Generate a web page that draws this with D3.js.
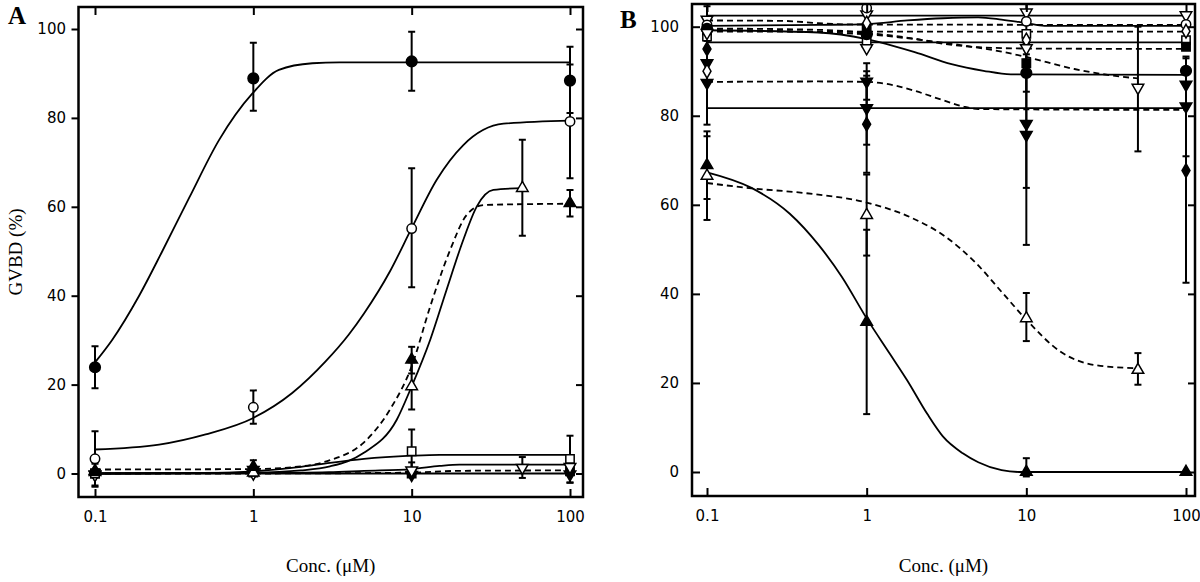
<!DOCTYPE html>
<html><head><meta charset="utf-8">
<script src="https://cdn.jsdelivr.net/npm/d3@7"></script>
<style>body{margin:0;background:#fff}</style>
</head><body>
<svg id="c" width="1200" height="582" xmlns="http://www.w3.org/2000/svg"></svg>
<script>
// ---------- shared axis data ----------
const concTicks = [0.1, 1, 10, 100];
const concTickLabels = ["0.1", "1", "10", "100"];
const gvbdTicks = [0, 20, 40, 60, 80, 100];
const gvbdTickLabels = ["0", "20", "40", "60", "80", "100"];
const yTitle = "GVBD (%)";
const xTitle = "Conc. (\u03BCM)";
const panelLetters = ["A", "B"];

// ---------- Panel A : data points [conc, value, errLow, errHigh] ----------
const aFilledCirclePts = [[0.1,23.9,19.2,28.6],[1,88.9,81.6,96.9],[10,92.7,86.1,99.4],[100,88.4,81.1,96]];
const aOpenCirclePts   = [[0.1,3.3,-3,9.5],[1,14.9,11.2,18.7],[10,55.1,41.9,68.7],[100,79.2,66.4,92]];
const aFilledTriPts    = [[0.1,0.6],[1,1.5,0,3],[10,25.6,22.5,28.5],[100,60.8,57.8,63.8]];
const aOpenTriPts      = [[0.1,0.3],[1,0.2],[10,19.6,14.4,25],[50,64.2,53.5,75.1]];
const aOpenSquarePts   = [[0.1,0,-2.7,2.2],[1,0.4],[10,5,0,9.9],[100,3.3,-2.1,8.5]];
const aOpenDownTriPts  = [[0.1,-0.3],[1,0],[10,0.7,-0.5,2.5],[50,1.3,-1,3.7],[100,1.5]];
const aFilledSquarePts = [[0.1,0],[1,0.2],[10,0],[100,0.5,-2,3]];
const aFilledDownTriPts= [[0.1,-0.2],[1,0.8],[10,-0.3],[100,-0.2]];

// ---------- Panel A : fitted curves [conc, value] ----------
const aFilledCircleCurve = [[0.1,25],[0.128,30],[0.19,40],[0.266,50],[0.393,62],[0.607,75],[0.987,85.5],[1.45,90.8],[2.36,92.3],[3.5,92.5],[100,92.5]];
const aOpenCircleCurve   = [[0.1,5.4],[0.254,6.5],[0.5,8.8],[1,12.5],[1.76,18.1],[2.86,25.2],[4,31.2],[5,36],[7.3,45.5],[10,55.2],[14.4,66.1],[21.2,73.9],[38,78.7],[100,79.4]];
const aFilledTriCurve    = [[0.1,0.9],[1,1.0],[2,1.6],[3.05,3.0],[4.96,6.9],[7.3,14.4],[10,24.1],[13.1,37.6],[17.5,50.3],[22.3,58.2],[28.4,60.4],[100,60.7]];
const aOpenTriCurve      = [[0.1,0],[1,0.2],[2,0.7],[3.05,1.6],[4.96,4.6],[8.05,12.1],[10,19.6],[13.1,30.1],[16.6,41.3],[21.2,52.6],[25.8,60.1],[32.8,63.8],[50,64.2]];
const aOpenSquareCurve   = [[0.1,0],[0.5,0.1],[1,0.5],[2,1.5],[3.05,2.4],[5,3.3],[10,4.0],[15,4.2],[100,4.2]];
const aOpenDownTriCurve  = [[0.1,0],[1,0.1],[3,0.3],[5,0.6],[10,1.0],[15,1.7],[20,2.0],[100,2.0]];
const aFilledSquareCurve = [[0.1,0],[1,0],[10,0.2],[20,0.6],[100,0.7]];
const aFilledDownTriCurve= [[0.1,0],[100,0]];

// ---------- Panel B : data points ----------
const bOpenDownTri1Pts = [[0.1,101.6,98.5,104.6],[1,102.8],[10,103.2,101,106],[100,102.6]];
const bOpenCirclePts   = [[0.1,100.4],[1,104.2,101,106],[10,101.2],[100,100.5]];
const bOpenSquarePts   = [[0.1,97.8],[1,96.4],[10,98.4],[100,97]];
const bFilledCirclePts = [[0.1,99.5],[1,98.3],[10,89.6,85.4,93.8],[100,90.1]];
const bFilledDownTri1Pts=[[0.1,87.4,78,96.8],[1,87.7,83.6,91.8],[10,78.2,63.8,92.6],[100,87]];
const bFilledDiamondPts= [[0.1,95,90,100],[1,78.1,67.2,89],[10,95.8],[100,67.7,42.5,92.9]];
const bFilledDownTri2Pts=[[0.1,91.8],[1,81.7,73.5,90],[10,75.7,51,100.4],[100,82.1,70.9,93.3]];
const bFilledSquarePts = [[0.1,99.2],[1,99.8],[10,91.8],[100,95.5]];
const bOpenDiamondPts  = [[0.1,90],[1,100.8],[10,97],[100,99]];
const bOpenDownTri2Pts = [[0.1,98.6],[1,95.2],[10,95.2],[50,86.3,72,100]];
const bFilledTriPts    = [[0.1,68.9,61.3,76.5],[1,33.7,13,54.4],[10,0,-1,3.1],[100,0]];
const bOpenTriPts      = [[0.1,66.5,56.6,75.4],[1,57.7,48.6,66.8],[10,34.5,29.4,40.2],[50,22.9,19.6,26.7]];

// ---------- Panel B : fitted curves ----------
const bOpenDownTri1Curve = [[0.1,102.5],[100,102.5]];
const bOpenCircleCurve   = [[0.1,100.2],[0.5,100.4],[1,100.6],[1.8,101.4],[3,101.9],[5,102.1],[7,101.6],[10,100.8],[13,100.2],[100,100.2]];
const bOpenSquareCurve   = [[0.1,96.5],[100,96.5]];
const bFilledCircleCurve = [[0.1,99.2],[0.5,98.7],[1,97.2],[1.5,95.6],[2,94.3],[3.4,91.6],[5.4,90.1],[8,89.3],[100,89.2]];
const bFilledDownTri1Curve=[[0.1,87.6],[0.5,87.7],[1,87.6],[1.5,86.8],[2,85.6],[3,83.5],[4,82.1],[5,81.5],[100,81.3]];
const bFilledDiamondCurve= [[0.1,81.7],[100,81.7]];
const bFilledDownTri2Curve=[[0.1,98.9],[100,98.9]];
const bFilledSquareCurve = [[0.1,99.6],[0.5,99.3],[1,98.6],[2,97.3],[3,96.2],[5,95.4],[10,95.1],[100,95]];
const bOpenDiamondCurve  = [[0.1,101.4],[0.3,101.3],[0.5,100.8],[0.8,100.5],[100,100.4]];
const bOpenDownTri2Curve = [[0.1,99.3],[1,98.3],[2,97.2],[4,95.8],[7,94.4],[10,93.2],[20,90.5],[35,89],[50,88.4]];
const bFilledTriCurve    = [[0.1,67.3],[0.19,63.8],[0.33,58],[0.5,51],[0.7,43.8],[1,34.5],[1.4,26.5],[1.8,20.5],[2.4,13],[3,8],[4,4.2],[5,2.2],[7,0.4],[9,0],[100,0]];
const bOpenTriCurve      = [[0.1,64.9],[0.19,63.7],[0.42,62.6],[1,60.5],[1.88,57.2],[3.1,52.9],[4.84,46.9],[7.1,40.2],[10,34.2],[16.4,27],[27,24],[50,23.3]];

// ---------- styles (kept apart from data) ----------
const seriesA = [
  {pts:aFilledDownTriPts, curve:aFilledDownTriCurve, marker:"tridown", filled:true,  dashed:false},
  {pts:aFilledSquarePts,  curve:aFilledSquareCurve,  marker:"square",  filled:true,  dashed:true},
  {pts:aOpenDownTriPts,   curve:aOpenDownTriCurve,   marker:"tridown", filled:false, dashed:false},
  {pts:aOpenSquarePts,    curve:aOpenSquareCurve,    marker:"square",  filled:false, dashed:false},
  {pts:aOpenTriPts,       curve:aOpenTriCurve,       marker:"tri",     filled:false, dashed:false},
  {pts:aFilledTriPts,     curve:aFilledTriCurve,     marker:"tri",     filled:true,  dashed:true},
  {pts:aOpenCirclePts,    curve:aOpenCircleCurve,    marker:"circle",  filled:false, dashed:false},
  {pts:aFilledCirclePts,  curve:aFilledCircleCurve,  marker:"circle",  filled:true,  dashed:false}
];
const seriesB = [
  {pts:bOpenDownTri1Pts,  curve:bOpenDownTri1Curve,  marker:"tridown", filled:false, dashed:false},
  {pts:bOpenCirclePts,    curve:bOpenCircleCurve,    marker:"circle",  filled:false, dashed:false},
  {pts:bOpenSquarePts,    curve:bOpenSquareCurve,    marker:"square",  filled:false, dashed:false},
  {pts:bFilledCirclePts,  curve:bFilledCircleCurve,  marker:"circle",  filled:true,  dashed:false},
  {pts:bFilledDownTri1Pts,curve:bFilledDownTri1Curve,marker:"tridown", filled:true,  dashed:true},
  {pts:bFilledDiamondPts, curve:bFilledDiamondCurve, marker:"diamond", filled:true,  dashed:false},
  {pts:bFilledDownTri2Pts,curve:bFilledDownTri2Curve,marker:"tridown", filled:true,  dashed:true},
  {pts:bFilledSquarePts,  curve:bFilledSquareCurve,  marker:"square",  filled:true,  dashed:true},
  {pts:bOpenDiamondPts,   curve:bOpenDiamondCurve,   marker:"diamond", filled:false, dashed:true},
  {pts:bOpenDownTri2Pts,  curve:bOpenDownTri2Curve,  marker:"tridown", filled:false, dashed:true},
  {pts:bOpenTriPts,       curve:bOpenTriCurve,       marker:"tri",     filled:false, dashed:true},
  {pts:bFilledTriPts,     curve:bFilledTriCurve,     marker:"tri",     filled:true,  dashed:false}
];

const svg = d3.select("#c");
const TICK_FONT = "'DejaVu Sans', sans-serif";
const SERIF = "'Liberation Serif', 'DejaVu Serif', serif";

function symbolFor(m, filled) {
  if (m === "circle") return d3.symbol(d3.symbolCircle, filled ? 90 : 70)();
  if (m === "square") return d3.symbol(d3.symbolSquare, 70)();
  if (m === "tri" || m === "tridown") return d3.symbol(d3.symbolTriangle, 58)();
  if (m === "diamond") return d3.symbol(d3.symbolDiamond, 55)();
}

function drawPanel(p) {
  const g = svg.append("g");
  const x = d3.scaleLog().domain([0.1, 100]).range(p.xr);
  const y = d3.scaleLinear().domain([0, 100]).range(p.yr);
  const f = p.frame; // [left, top, right, bottom]

  const clipId = "clip" + p.letter;
  svg.append("clipPath").attr("id", clipId).append("rect")
    .attr("x", f[0]).attr("y", f[1]).attr("width", f[2]-f[0]).attr("height", f[3]-f[1]);

  const plot = g.append("g").attr("clip-path", `url(#${clipId})`);
  const line = d3.line().x(d => x(d[0])).y(d => y(d[1])).curve(d3.curveMonotoneX);

  // curves
  p.series.forEach(s => {
    plot.append("path").attr("d", line(s.curve))
      .attr("fill", "none").attr("stroke", "#000").attr("stroke-width", 1.8)
      .attr("stroke-dasharray", s.dashed ? "6,4" : null);
  });
  // error bars
  p.series.forEach(s => {
    s.pts.filter(d => d.length >= 4).forEach(d => {
      const cx = x(d[0]);
      plot.append("line").attr("x1", cx).attr("x2", cx).attr("y1", y(d[2])).attr("y2", y(d[3]))
        .attr("stroke", "#000").attr("stroke-width", 2);
      [d[2], d[3]].forEach(v => {
        plot.append("line").attr("x1", cx-3.5).attr("x2", cx+3.5).attr("y1", y(v)).attr("y2", y(v))
          .attr("stroke", "#000").attr("stroke-width", 2);
      });
    });
  });
  // markers
  p.series.forEach(s => {
    s.pts.forEach(d => {
      plot.append("path").attr("d", symbolFor(s.marker, s.filled))
        .attr("transform", `translate(${x(d[0])},${y(d[1])})` + (s.marker === "tridown" ? " rotate(180)" : ""))
        .attr("fill", s.filled ? "#000" : "#fff")
        .attr("stroke", "#000").attr("stroke-width", 1.5);
    });
  });

  // axes
  const styleAxis = sel => {
    sel.select(".domain").remove();
    sel.selectAll(".tick line").attr("stroke", "#000").attr("stroke-width", 2);
    sel.selectAll("text").attr("font-family", TICK_FONT).attr("font-size", 15).attr("fill", "#000");
  };
  g.append("g").attr("transform", `translate(0,${f[3]})`)
    .call(d3.axisBottom(x).tickValues(concTicks).tickFormat((d,i) => concTickLabels[i]).tickSize(-8).tickPadding(14))
    .call(styleAxis);
  g.append("g").attr("transform", `translate(0,${f[1]})`)
    .call(d3.axisTop(x).tickValues(concTicks).tickFormat("").tickSize(-8))
    .call(styleAxis);
  g.append("g").attr("transform", `translate(${f[0]},0)`)
    .call(d3.axisLeft(y).tickValues(gvbdTicks).tickFormat((d,i) => gvbdTickLabels[i]).tickSize(p.leftTick).tickPadding(p.leftPad))
    .call(styleAxis);
  g.append("g").attr("transform", `translate(${f[2]},0)`)
    .call(d3.axisRight(y).tickValues(gvbdTicks).tickFormat("").tickSize(-7))
    .call(styleAxis);

  // frame
  g.append("rect").attr("x", f[0]).attr("y", f[1]).attr("width", f[2]-f[0]).attr("height", f[3]-f[1])
    .attr("fill", "none").attr("stroke", "#000").attr("stroke-width", 2.5);

  // titles
  g.append("text").attr("x", (f[0]+f[2])/2).attr("y", 572).attr("text-anchor", "middle")
    .attr("font-family", SERIF).attr("font-size", 19).text(xTitle);
  g.append("text").attr("x", p.letterPos[0]).attr("y", p.letterPos[1])
    .attr("font-family", SERIF).attr("font-weight", "bold").attr("font-size", 25).text(p.letter);
}

drawPanel({letter: panelLetters[0], series: seriesA, xr: [95, 570], yr: [473.5, 29],
  frame: [78.5, 7, 583, 497], leftTick: 7, leftPad: 5.5, letterPos: [8, 24]});
drawPanel({letter: panelLetters[1], series: seriesB, xr: [707, 1186], yr: [472, 26.7],
  frame: [692, 4, 1195, 496], leftTick: -8, leftPad: 13, letterPos: [620, 28]});

svg.append("text").attr("transform", "translate(22,252) rotate(-90)").attr("text-anchor", "middle")
  .attr("font-family", SERIF).attr("font-size", 19).text(yTitle);
</script>
</body></html>
